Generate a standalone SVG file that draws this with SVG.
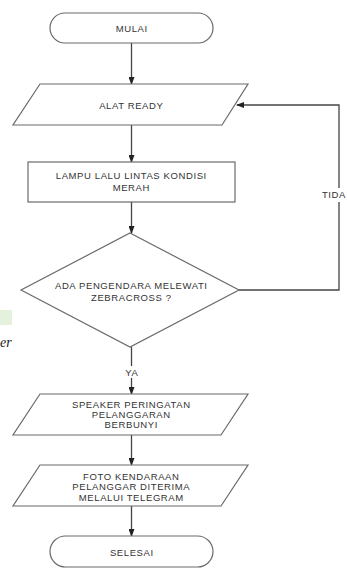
<svg xmlns="http://www.w3.org/2000/svg" width="347" height="569" viewBox="0 0 347 569">
<style>
.s{fill:#fff;stroke:#6a6a6a;stroke-width:1.2}
.t{font-family:"Liberation Sans",Arial,sans-serif;font-size:9.5px;letter-spacing:0.6px;fill:#333;text-anchor:middle}
.c{fill:none;stroke:#444;stroke-width:1.3}
</style>
<defs>
<marker id="a" markerWidth="8" markerHeight="6" refX="7" refY="3" orient="auto" markerUnits="userSpaceOnUse">
<path d="M0,0 L8,3 L0,6 z" fill="#222"/>
</marker>
</defs>
<rect width="347" height="569" fill="#fff"/>
<rect x="0" y="310" width="12" height="15" fill="#e4f1dc"/>
<text x="0" y="347" font-family="Liberation Serif,serif" font-style="italic" font-size="14" fill="#222">er</text>
<g id="connectors">
<line class="c" x1="131.5" y1="43" x2="131.5" y2="84" marker-end="url(#a)"/>
<line class="c" x1="131.5" y1="125" x2="131.5" y2="162" marker-end="url(#a)"/>
<line class="c" x1="131.5" y1="202" x2="131.5" y2="233" marker-end="url(#a)"/>
<polyline class="c" points="239,290 339,290 339,105 237,105" marker-end="url(#a)"/>
<line class="c" x1="131.5" y1="347" x2="131.5" y2="394" marker-end="url(#a)"/>
<line class="c" x1="131.5" y1="435" x2="131.5" y2="465" marker-end="url(#a)"/>
<line class="c" x1="131.5" y1="506" x2="131.5" y2="536" marker-end="url(#a)"/>
<rect x="320" y="188" width="27" height="14" fill="#fff"/>
<text class="t" x="334" y="198">TIDA</text>
<rect x="123" y="366" width="17" height="12" fill="#fff"/>
<text class="t" x="131.8" y="375.5">YA</text>
</g>
<g id="mulai">
<rect class="s" x="50" y="13" width="163" height="30" rx="15"/>
<text class="t" x="131.8" y="31.5">MULAI</text>
</g>
<g id="alat-ready">
<polygon class="s" points="40,84 248,84 222,125 13,125"/>
<text class="t" x="131.3" y="108.5">ALAT READY</text>
</g>
<g id="lampu">
<rect class="s" x="28" y="162" width="207" height="40"/>
<text class="t" x="131.3" y="178.5">LAMPU LALU LINTAS KONDISI</text>
<text class="t" x="131.3" y="190.5">MERAH</text>
</g>
<g id="decision">
<polygon class="s" points="130,233 239,290 130,347 21,290"/>
<text class="t" x="131.3" y="288.5">ADA PENGENDARA MELEWATI</text>
<text class="t" x="131.3" y="301">ZEBRACROSS ?</text>
</g>
<g id="speaker">
<polygon class="s" points="40,394 248,394 221,435 13,435"/>
<text class="t" x="131.3" y="407.5">SPEAKER PERINGATAN</text>
<text class="t" x="131.3" y="417.5">PELANGGARAN</text>
<text class="t" x="131.3" y="427.5">BERBUNYI</text>
</g>
<g id="foto">
<polygon class="s" points="40,465 248,465 221,506 13,506"/>
<text class="t" x="131.3" y="479.5">FOTO KENDARAAN</text>
<text class="t" x="131.3" y="489.5">PELANGGAR DITERIMA</text>
<text class="t" x="131.3" y="500.5">MELALUI TELEGRAM</text>
</g>
<g id="selesai">
<rect class="s" x="50" y="536" width="163" height="31" rx="15.5"/>
<text class="t" x="131.8" y="555.5">SELESAI</text>
</g>
</svg>
